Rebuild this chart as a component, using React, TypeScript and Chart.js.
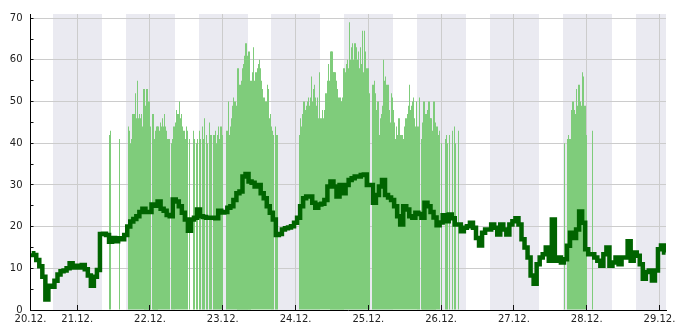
import React, { useEffect, useRef } from 'react';
import { Chart, registerables } from 'chart.js';

Chart.register(...registerables);

// ---- axes / labels ----
const dayLabels = ['20.12.', '21.12.', '22.12.', '23.12.', '24.12.', '25.12.', '26.12.', '27.12.', '28.12.', '29.12.'];
const dayTickHours = [24, 48, 72, 96, 120, 144, 168, 192, 216];
const xStartHour = 8.6;
const xEndHour = 218.15;
const yMajorTicks = [0, 10, 20, 30, 40, 50, 60, 70];
const yMinorTicks = [5, 15, 25, 35, 45, 55, 65];
const yMax = 71;

// ---- night periods (hours since 20.12. 00:00) ----
const nightStarts = [16.15, 40.15, 64.1, 88.05, 112.07, 136.1, 160.2, 184.2, 208.3];
const nightEnds = [32.2, 56.25, 80.35, 104.2, 128.2, 152.25, 176.3, 200.4, 224.3];

// ---- dark green line: hourly values starting at hour 9 ----
const lineStartHour = 9;
const lineValues = [
  13.6, 13.2, 12.0, 10.5, 8.0, 2.5, 5.8, 5.6, 7.0, 8.5,
  9.3, 9.5, 10.0, 11.2, 10.2, 10.6, 10.2, 10.8, 9.8, 8.3,
  5.8, 8.0, 9.6, 18.2, 18.3, 18.0, 16.4, 17.3, 16.5, 17.2,
  17.0, 18.0, 20.0, 21.2, 21.8, 22.5, 23.5, 24.3, 23.5, 23.5,
  25.3, 25.0, 26.0, 24.3, 23.8, 22.8, 22.5, 26.5, 26.0, 24.9,
  23.3, 21.7, 19.0, 21.7, 22.1, 24.1, 22.5, 22.3, 22.1, 22.1,
  22.1, 22.0, 23.8, 23.4, 23.5, 24.5, 24.9, 26.4, 28.0, 28.4,
  32.0, 32.6, 30.8, 30.5, 29.6, 30.0, 28.0, 26.8, 24.9, 23.3,
  21.7, 18.0, 18.2, 19.3, 19.6, 19.8, 20.1, 20.9, 22.1, 24.9,
  26.8, 27.2, 27.2, 25.7, 24.5, 25.3, 25.5, 26.4, 29.6, 30.8,
  29.6, 27.2, 30.0, 28.0, 30.0, 31.2, 31.6, 32.0, 32.0, 32.4,
  32.5, 30.0, 30.0, 25.7, 27.6, 29.6, 31.2, 27.6, 27.0, 26.4,
  24.9, 22.5, 20.5, 24.9, 24.1, 22.5, 22.1, 23.3, 23.0, 22.1,
  25.7, 24.9, 23.5, 22.2, 20.3, 21.0, 22.7, 21.3, 22.9, 22.0,
  20.5, 20.5, 18.9, 19.7, 20.1, 20.9, 19.7, 17.3, 15.5, 18.5,
  19.3, 19.3, 20.5, 19.7, 18.1, 20.5, 19.3, 18.1, 20.5, 21.3,
  22.0, 20.5, 17.0, 15.0, 12.6, 8.3, 6.3, 11.0, 12.6, 13.4,
  15.0, 11.8, 21.7, 11.8, 12.6, 11.4, 12.2, 15.4, 18.5, 17.3,
  19.3, 23.6, 20.9, 14.6, 13.4, 13.4, 12.6, 11.8, 10.6, 13.4,
  15.0, 10.6, 11.4, 12.6, 11.0, 12.6, 12.6, 16.5, 11.8, 13.8,
  13.0, 11.0, 7.5, 9.1, 9.5, 7.1, 9.5, 14.6, 15.5, 13.8,
];

// ---- light green bars: 20-minute values, in segments ----
const barStepHours = 1 / 3;
const barSegmentStarts = [34 + 2 / 3, 38, 41, 49, 55, 61, 73 + 1 / 3, 97 + 1 / 3, 121 + 1 / 3, 184 + 2 / 3];
const barsSeg1 = [42, 43];
const barsSeg2 = [41];
const barsSeg3 = [44, 43, 40, 41, 47, 47, 47, 52, 46, 55, 46, 47, 46, 47, 44, 53, 49, 46, 53, 47, 50, 44];
const barsSeg4 = [47, 40, 41, 43, 44, 44, 43, 45, 44, 46, 44, 47, 44, 43, 41, 41, 41];
const barsSeg5 = [40, 41, 44, 44, 45, 48, 47, 47, 50, 46, 47, 44, 43, 43, 41, 44, 43];
const barsSeg6 = [41, null, null, null, 43, 41, null, 40, 41, null, 43, 41, null, 44, 41, 46, null, 42, 40, null,
  45, 42, 42, null, 42, 42, 43, 40, 42, 44, 41, 44, 44, 42];
const barsSeg7 = [43, 43, 50, 42, 44, 46, 49, 51, 50, 50, 49, 58, 50, 54, 49, 55, 58, 59, 61, 64,
  61, 60, 62, 53, 55, 57, 63, 55, 57, 57, 58, 59, 60, 58, 55, 53, 51, 51, 50, 50,
  54, 53, 46, 47, 44, 43, 42, null, 44, 42, 42];
const barsSeg8 = [42, 46, 44, 47, 50, 50, 48, 49, 50, 51, 49, 51, 56, 50, 53, 54, 51, 49, 51, 46,
  57, 46, 46, 48, 46, 48, 52, 52, 55, 59, 55, 62, 62, 57, 57, 57, 55, 53, 51, 50,
  51, 50, 50, 51, 58, 57, 59, 60, 58, 69, 60, 63, 64, 60, 64, 64, 63, 60, 62, 58,
  63, 59, 67, 57, 67, 62, 58, 58, 58, 52];
const barsSeg9 = [54, 54, 55, 52, 48, 50, 50, 42, 46, 47, 49, 60, 55, 56, 54, 54, 54, 48, 45, 52,
  51, 48, 45, 41, 44, 42, 46, 46, 42, 42, 42, 41, 44, 46, 46, 47, 49, 54, 48, 49,
  50, 51, 46, 44, 50, 44, 44, 51, null, 41, 45, 50, 47, 47, 47, 48, 50, 46, 46, 43,
  42, 50, 45, 44, 44, 42, 43, null, 40, null, null, null, 41, 42, 40, null, 42, null, null, 43,
  null, 44, 40, null, null, 43];
const barsSeg10 = [40, null, null, 41, 42, 41, 41, 48, 50, 50, 48, 47, 53, 49, 54, 54, 50, 49, 57, 56,
  49, 49, 42, null, null, null, null, null, 43];
const barSegments = [barsSeg1, barsSeg2, barsSeg3, barsSeg4, barsSeg5, barsSeg6, barsSeg7, barsSeg8, barsSeg9, barsSeg10];

const nightBandsPlugin = {
  id: 'nightBands',
  beforeDraw(chart: any) {
    const { ctx, chartArea, scales } = chart;
    const x = scales.x;
    ctx.save();
    ctx.beginPath();
    ctx.rect(chartArea.left, chartArea.top, chartArea.right - chartArea.left, chartArea.bottom - chartArea.top);
    ctx.clip();
    ctx.fillStyle = '#eaeaf1';
    nightStarts.forEach((s, i) => {
      const x0 = Math.round(x.getPixelForValue(s));
      const x1 = Math.round(x.getPixelForValue(nightEnds[i]));
      ctx.fillRect(x0, chartArea.top, x1 - x0, chartArea.bottom - chartArea.top);
    });
    ctx.restore();
  },
};

// snap each bar to whole pixels so neighbouring bars join without seams
const snapBarsPlugin = {
  id: 'snapBars',
  afterDatasetsUpdate(chart: any) {
    chart.getSortedVisibleDatasetMetas().forEach((meta: any) => {
      if (meta.type !== 'bar') return;
      meta.data.forEach((el: any) => {
        const left = Math.round(el.x - el.width / 2);
        const right = Math.max(left + 1, Math.round(el.x + el.width / 2));
        el.x = (left + right) / 2;
        el.width = right - left;
      });
    });
  },
};

const innerTicksPlugin = {
  id: 'innerTicks',
  afterDraw(chart: any) {
    const { ctx, chartArea, scales } = chart;
    const x = scales.x;
    const y = scales.y;
    ctx.save();
    ctx.strokeStyle = '#111';
    ctx.lineWidth = 1;
    ctx.beginPath();
    dayTickHours.forEach((h) => {
      const px = Math.round(x.getPixelForValue(h) - 0.5) + 0.5;
      ctx.moveTo(px, chartArea.bottom);
      ctx.lineTo(px, chartArea.bottom - 5);
    });
    [...yMajorTicks, ...yMinorTicks].forEach((v) => {
      const py = Math.round(y.getPixelForValue(v) - 0.5) + 0.5;
      ctx.moveTo(chartArea.left, py);
      ctx.lineTo(chartArea.left + 3, py);
    });
    ctx.stroke();
    ctx.restore();
  },
};

export default function App() {
  const canvasRef = useRef<HTMLCanvasElement | null>(null);

  useEffect(() => {
    const linePoints = lineValues.map((v, i) => ({ x: lineStartHour + i, y: v }));
    const barPoints: { x: number; y: number }[] = [];
    barSegments.forEach((vals, si) => {
      vals.forEach((v, i) => {
        if (v !== null) barPoints.push({ x: barSegmentStarts[si] + i * barStepHours, y: v as number });
      });
    });

    const font = { family: 'DejaVu Sans', size: 10 };
    const chart = new Chart(canvasRef.current as HTMLCanvasElement, {
      type: 'line',
      data: {
        datasets: [
          {
            type: 'line',
            data: linePoints,
            borderColor: '#006400',
            borderWidth: 4.5,
            pointRadius: 0,
            stepped: 'middle',
            fill: false,
            order: 0,
            borderJoinStyle: 'miter',
          } as any,
          {
            type: 'bar',
            data: barPoints,
            backgroundColor: 'rgb(127,204,123)',
            borderWidth: 0,
            inflateAmount: 0,
            barPercentage: 1.15,
            categoryPercentage: 1,
            order: 1,
          } as any,
        ],
      },
      options: {
        responsive: false,
        animation: false,
        layout: { padding: { left: 0, right: 19, top: 10, bottom: 0 } },
        plugins: { legend: { display: false }, tooltip: { enabled: false } },
        scales: {
          x: {
            type: 'linear',
            min: xStartHour,
            max: xEndHour,
            offset: false,
            afterBuildTicks: (s: any) => {
              s.ticks = [xStartHour, ...dayTickHours].map((v) => ({ value: v }));
            },
            afterFit: (s: any) => {
              s.height = 20;
            },
            ticks: {
              autoSkip: false,
              maxRotation: 0,
              padding: 3,
              color: '#222',
              font,
              callback: (_v: any, i: number) => dayLabels[i],
            },
            grid: { color: '#cccccc', drawTicks: false, offset: false },
            border: { display: true, color: '#000', width: 1 },
          },
          y: {
            type: 'linear',
            min: 0,
            max: yMax,
            afterBuildTicks: (s: any) => {
              s.ticks = yMajorTicks.map((v) => ({ value: v }));
            },
            afterFit: (s: any) => {
              s.width = 30.5;
            },
            ticks: { padding: 8, color: '#222', font },
            grid: { color: '#cccccc', drawTicks: false },
            border: { display: true, color: '#000', width: 1 },
          },
        },
      } as any,
      plugins: [nightBandsPlugin, snapBarsPlugin, innerTicksPlugin],
    });
    return () => chart.destroy();
  }, []);

  return (
    <div style={{ position: 'fixed', left: 0, top: 0, width: 685, height: 330, background: '#fff' }}>
      <canvas ref={canvasRef} width={685} height={330} style={{ display: 'block', width: 685, height: 330 }} />
    </div>
  );
}
